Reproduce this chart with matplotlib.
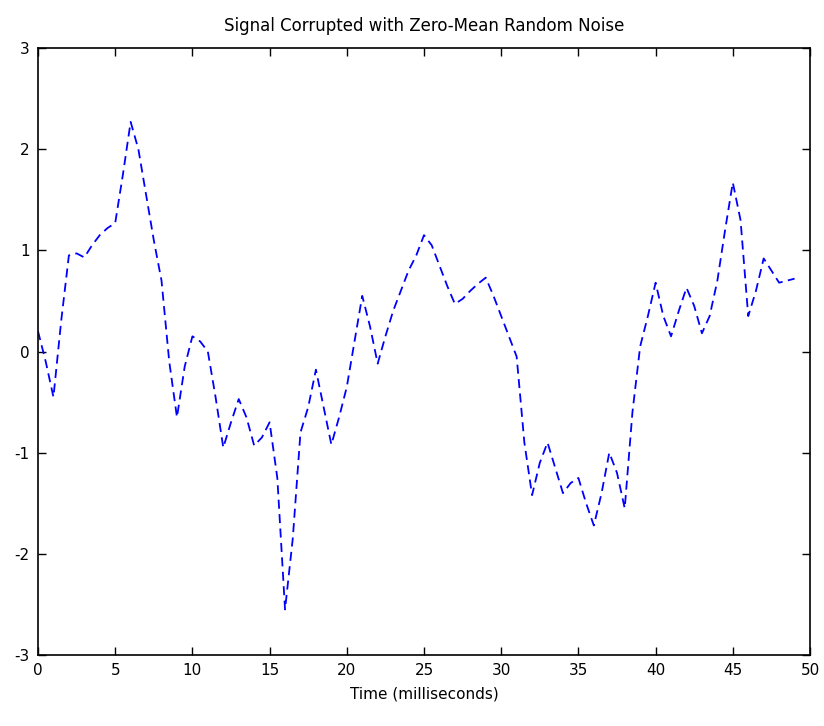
import matplotlib
matplotlib.use("Agg")
import matplotlib.pyplot as plt
import numpy as np

plt.rcParams['axes.unicode_minus'] = False

t = np.arange(0, 49.01, 0.5)
signal = [0.20, -0.10, -0.45, 0.30, 0.95, 0.97, 0.93, 1.05, 1.15, 1.22,
          1.27, 1.75, 2.27, 2.00, 1.55, 1.10, 0.70, -0.10, -0.65, -0.15,
          0.15, 0.10, 0.00, -0.45, -0.95, -0.70, -0.47, -0.65, -0.93, -0.85,
          -0.70, -1.25, -2.55, -1.85, -0.80, -0.55, -0.18, -0.55, -0.92, -0.65,
          -0.35, 0.10, 0.55, 0.25, -0.12, 0.15, 0.40, 0.60, 0.80, 0.95,
          1.15, 1.05, 0.85, 0.65, 0.47, 0.52, 0.60, 0.67, 0.73, 0.55,
          0.35, 0.15, -0.05, -0.90, -1.42, -1.10, -0.90, -1.15, -1.40, -1.30,
          -1.25, -1.50, -1.72, -1.40, -1.00, -1.20, -1.55, -0.60, 0.05, 0.35,
          0.68, 0.35, 0.15, 0.40, 0.63, 0.45, 0.18, 0.35, 0.70, 1.20,
          1.67, 1.30, 0.35, 0.60, 0.92, 0.80, 0.68, 0.70, 0.72]

xticks = list(range(0, 51, 5))
yticks = [-3, -2, -1, 0, 1, 2, 3]

fig = plt.figure(figsize=(8.24, 7.26), dpi=100)
ax = fig.add_axes([38/824, 71/726, (810-38)/824, (655-48)/726])
ax.plot(t, signal, color='blue', linestyle='--', linewidth=1.3, dashes=(5, 3))
ax.set_xlim(0, 50)
ax.set_ylim(-3, 3)
ax.set_xticks(xticks)
ax.set_yticks(yticks)
ax.tick_params(direction='in', top=True, right=True, length=6, width=1, labelsize=11, pad=6)
for s in ax.spines.values():
    s.set_linewidth(1.2)
ax.set_title('Signal Corrupted with Zero-Mean Random Noise', fontsize=12, pad=12)
ax.set_xlabel('Time (milliseconds)', fontsize=11, labelpad=6)
fig.savefig('out.png', dpi=100)
